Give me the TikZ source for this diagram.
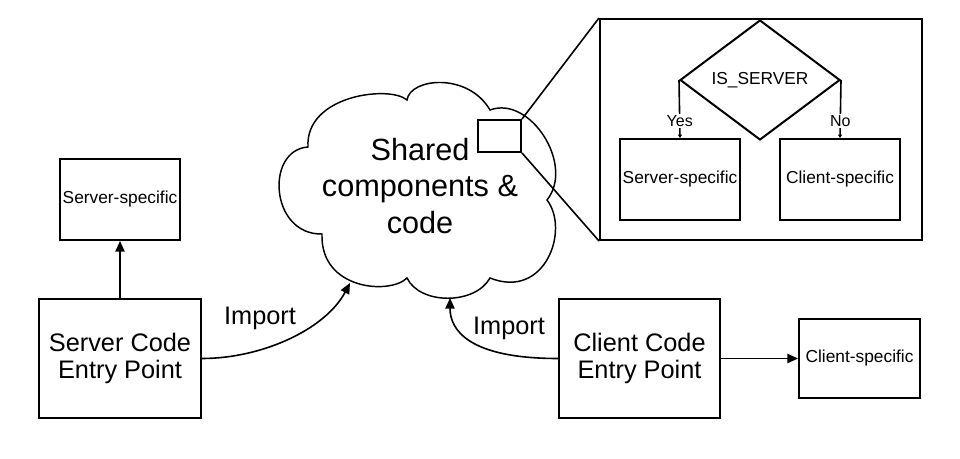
\documentclass[tikz,border=0pt]{standalone}
\usepackage{fontspec}
\setmainfont{Liberation Sans}
\usepackage{tikz}
\usetikzlibrary{positioning,arrows.meta,shapes.geometric}
\newcommand\pxu{0.75pt}
\tikzset{every path/.append style={line width=1.2pt}}
\tikzset{
 codebox/.style={draw,line width=1.6pt,align=center,inner sep=0pt,font=\fontsize{19}{20.5}\selectfont},
 specbox/.style={draw,line width=1.5pt,inner sep=0pt,font=\fontsize{13}{15}\selectfont},
 importlbl/.style={font=\fontsize{19}{21}\selectfont},
 bigarrow/.style={-{Triangle[length=8pt,width=7pt]}},
 tinyarrow/.style={-{Triangle[length=2.5pt,width=3pt]}},
 branchlbl/.style={fill=white,inner sep=1pt,font=\fontsize{12}{14}\selectfont}
}
\begin{document}
\begin{tikzpicture}[x=0.75pt,y=-0.75pt]
 \useasboundingbox (0,0) rectangle (960,459);
 \draw[line width=1.1pt,fill=white] (308,147) .. controls (305,95) and (390,85) .. (407,100)
  .. controls (410,78) and (468,72) .. (490,110)
  .. controls (530,95) and (575,165) .. (547,200)
  .. controls (570,230) and (545,300) .. (490,278)
  .. controls (475,305) and (420,305) .. (407,278)
  .. controls (390,295) and (320,290) .. (322,234)
  .. controls (270,235) and (265,150) .. (308,147) -- cycle;
 \node[align=center,font=\fontsize{23}{27.5}\selectfont] (shared) at (420,186) {Shared\\components \&\\code};
 \coordinate (cloudL) at (350,283);
 \coordinate (cloudB) at (450,298);
 \node[specbox,minimum width=120*\pxu,minimum height=81*\pxu] (srvspec) at (120,199.5) {Server-specific};
 \node[codebox,minimum width=162*\pxu,minimum height=119*\pxu] (srventry) at (120,358.5) {Server Code\\Entry Point};
 \node[codebox,minimum width=161*\pxu,minimum height=119*\pxu] (clientry) at (639.5,358.5) {Client Code\\Entry Point};
 \node[specbox,minimum width=121*\pxu,minimum height=79*\pxu] (clispec) at (859.5,358.5) {Client-specific};
 \node[importlbl] (imp1) at (260,318) {Import};
 \node[importlbl] (imp2) at (509,328) {Import};
 \draw[bigarrow] (srventry) -- (srvspec);
 \draw[bigarrow] (clientry) -- (clispec);
 \draw[bigarrow] (srventry.east) .. controls +(59,0) and +(-25,47) .. (cloudL);
 \draw[bigarrow] (clientry.west) .. controls +(-89,0) and +(0,32) .. (cloudB);
 \node[draw,line width=1.5pt,fill=white,minimum width=43*\pxu,minimum height=32*\pxu] (mark) at (499.5,136) {};
 \node[draw,line width=1.5pt,minimum width=322*\pxu,minimum height=221*\pxu] (panel) at (761,129.5) {};
 \draw (mark.north east) -- (panel.north west);
 \draw (mark.south east) -- (panel.south west);
 \node[draw,shape=diamond,line width=1.5pt,inner sep=0pt,minimum width=160*\pxu,minimum height=120*\pxu,font=\fontsize{13}{15}\selectfont] (dia) at (760,80) {IS\_SERVER};
 \node[specbox,minimum width=120*\pxu,minimum height=81*\pxu] (srvin) at (680,179.5) {Server-specific};
 \node[specbox,minimum width=120*\pxu,minimum height=81*\pxu] (cliin) at (840,179.5) {Client-specific};
 \draw[tinyarrow] (dia.west) -- node[branchlbl,pos=0.71] (yes) {Yes} (srvin.north);
 \draw[tinyarrow] (dia.east) -- node[branchlbl,pos=0.71] (no) {No} (cliin.north);
\end{tikzpicture}
\end{document}
